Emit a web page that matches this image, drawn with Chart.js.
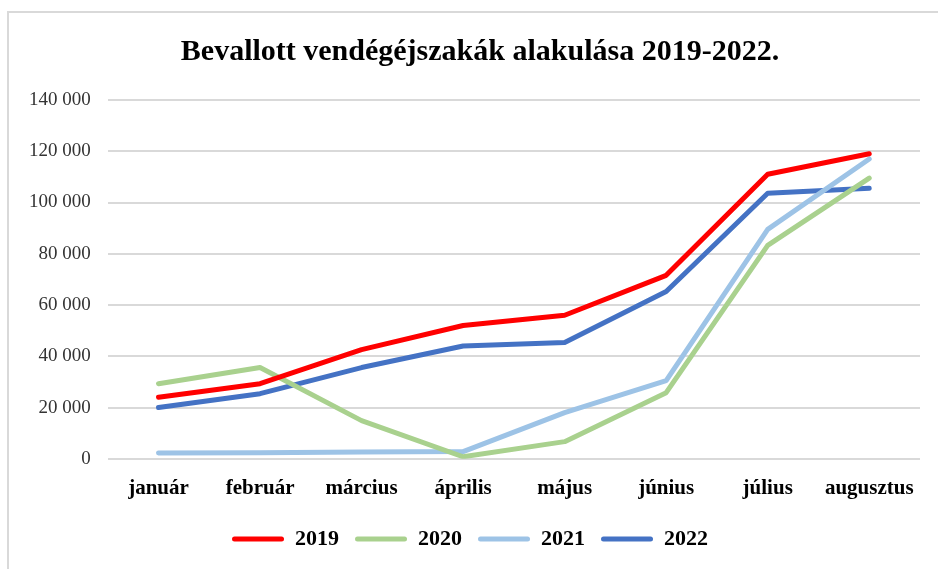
<!DOCTYPE html>
<html>
<head>
<meta charset="utf-8">
<script src="https://cdn.jsdelivr.net/npm/chart.js@4.4.0/dist/chart.umd.min.js"></script>
<style>
  body { margin: 0; background: #fff; }
  #wrap { position: relative; width: 938px; height: 569px; }
  #frame { position: absolute; left: 7px; top: 11px; width: 960px; height: 600px; border: 2px solid #d9d9d9; box-sizing: border-box; }
  canvas { position: absolute; left: 0; top: 0; }
</style>
</head>
<body>
<div id="wrap">
  <div id="frame"></div>
  <canvas id="myChart" width="938" height="569"></canvas>
</div>
<script>
var months = ['január', 'február', 'március', 'április', 'május', 'június', 'július', 'augusztus'];
var y2019 = [24000, 29300, 42600, 52000, 56000, 71600, 111000, 119000];
var y2020 = [29300, 35600, 14900, 800, 6700, 25800, 83300, 109500];
var y2021 = [2300, 2400, 2700, 2800, 18000, 30500, 89500, 117000];
var y2022 = [20000, 25400, 35600, 44000, 45400, 65300, 103600, 105600];

function fmt(v) {
    return v.toString().replace(/\B(?=(\d{3})+(?!\d))/g, ' ');
}

function line(label, data, color) {
    return {
        label: label,
        data: data,
        borderColor: color,
        backgroundColor: color,
        borderWidth: 5,
        pointRadius: 0,
        tension: 0,
        borderCapStyle: 'round',
        borderJoinStyle: 'round'
    };
}

var serif = 'Liberation Serif';

// nudge title and legend a bit to the right, like the original
var nudge = {
    id: 'nudge',
    afterLayout: function (chart) {
        if (chart.titleBlock) { chart.titleBlock.left += 14; chart.titleBlock.right += 14; }
        if (chart.legend) { chart.legend.left += 4; chart.legend.right += 4; }
    }
};

var ctx = document.getElementById('myChart');
var myChart = new Chart(ctx, {
    type: 'line',
    data: {
        labels: months,
        datasets: [
            line('2019', y2019, '#ff0000'),
            line('2020', y2020, '#a9d18e'),
            line('2021', y2021, '#9dc3e6'),
            line('2022', y2022, '#4472c4')
        ]
    },
    plugins: [nudge],
    options: {
        responsive: false,
        animation: false,
        layout: { padding: { left: 12, right: 18, top: 22, bottom: 9 } },
        plugins: {
            title: {
                display: true,
                text: 'Bevallott vendégéjszakák alakulása 2019-2022.',
                color: '#000',
                font: { family: serif, size: 30, weight: 'bold' },
                padding: { top: 12, bottom: 30 }
            },
            legend: {
                position: 'bottom',
                labels: {
                    color: '#000',
                    font: { family: serif, size: 22, weight: 'bold' },
                    boxWidth: 52,
                    boxHeight: 5,
                    padding: 16,
                    useBorderRadius: true,
                    borderRadius: 2.5,
                    generateLabels: function (chart) {
                        var items = Chart.defaults.plugins.legend.labels.generateLabels(chart);
                        items.forEach(function (it) { it.lineWidth = 0; });
                        return items;
                    }
                }
            },
            tooltip: { enabled: false }
        },
        scales: {
            x: {
                offset: true,
                grid: { display: false },
                border: { display: false },
                afterFit: function (scale) { scale.height += 2; },
                ticks: {
                    color: '#000',
                    font: { family: serif, size: 21, weight: 'bold' },
                    maxRotation: 0,
                    autoSkip: false,
                    padding: 9
                }
            },
            y: {
                min: 0,
                max: 140000,
                grid: { color: '#d9d9d9', lineWidth: 2, drawTicks: false },
                border: { display: false },
                ticks: {
                    stepSize: 20000,
                    color: '#333',
                    padding: 17,
                    font: { family: serif, size: 19 },
                    callback: function (v) { return fmt(v); }
                }
            }
        }
    }
});
window.chart = myChart;
</script>
</body>
</html>
